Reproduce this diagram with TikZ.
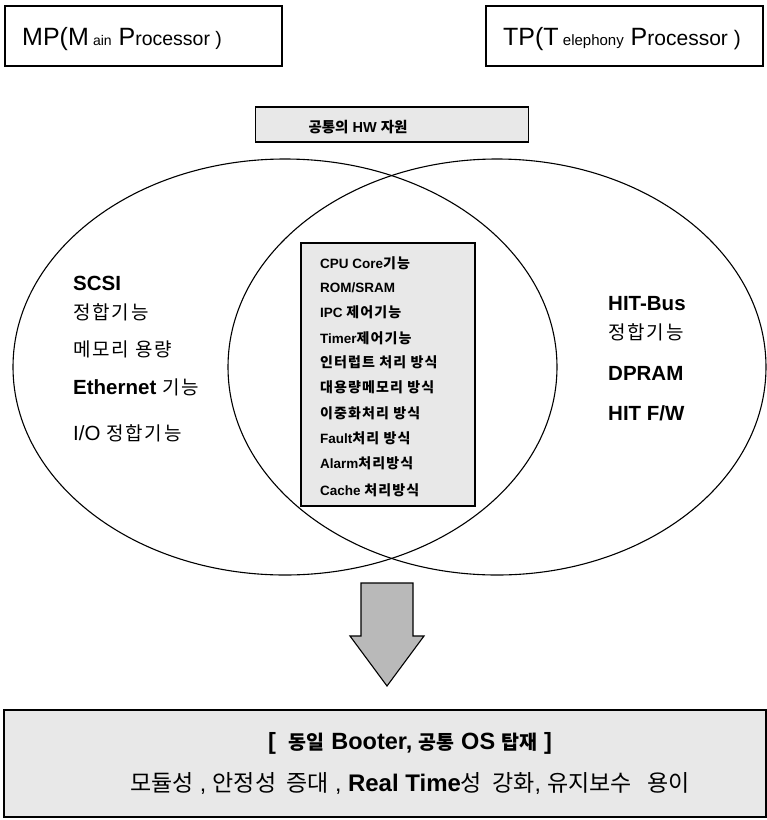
\documentclass[tikz,border=0pt]{standalone}
\usepackage{fontspec}
\setmainfont{Liberation Sans}
\newfontfamily\kr{Noto Sans CJK KR}
\newfontfamily\krw{Noto Sans CJK KR}[LetterSpace=10]
\newfontfamily\kri{Noto Sans CJK KR}[LetterSpace=8]
\newcommand{\K}[1]{{\kr #1}}
\newcommand{\KI}[1]{{\fontsize{14}{14}\kri #1}}
\newcommand{\KW}[1]{{\fontsize{19}{19}\krw #1}}
\usetikzlibrary{shapes.geometric}
\begin{document}
\begin{tikzpicture}[x=1pt,y=-1pt,
  box/.style={draw=black, line width=1.1pt, rectangle, inner sep=0pt},
  shaded/.style={box, fill=gray!18},
  venn/.style={draw=black, line width=1.1pt, ellipse, inner sep=0pt},
  lbl/.style={anchor=base west, inner sep=0pt, font=\fontsize{20.5}{20.5}\selectfont},
  item/.style={anchor=base west, inner sep=0pt, font=\fontsize{13.5}{13.5}\selectfont\bfseries},
]
\useasboundingbox (0,0) rectangle (767,820);

% top boxes
\node[box, minimum width=277pt, minimum height=60pt] (mp) at (143.5,36) {};
\node[anchor=base west, inner sep=0pt] (mpt) at (22,45) {\fontsize{25}{25}\selectfont MP(M\,{\fontsize{14}{14}\selectfont ain} P{\fontsize{19.5}{19.5}\selectfont rocessor )}};
\node[box, minimum width=277pt, minimum height=60pt] (tp) at (624.5,36) {};
\node[anchor=base west, inner sep=0pt] (tpt) at (503,45) {\fontsize{25}{25}\selectfont TP(T\,{\fontsize{15}{15}\selectfont elephony} P{\fontsize{21}{21}\selectfont rocessor )}};

% common HW box
\node[shaded, minimum width=273pt, minimum height=35pt] (hw) at (392,124.5) {};
\node[anchor=base, inner sep=0pt] (hwt) at (358,132) {\fontsize{14.5}{14.5}\selectfont\bfseries\K{공통의} HW \K{자원}};

% ellipses
\node[venn, minimum width=544pt, minimum height=416pt] (left) at (285,367) {};
\node[venn, minimum width=538pt, minimum height=416pt] (right) at (497,367) {};

% inner box
\node[shaded, minimum width=174pt, minimum height=263pt] (inner) at (388,374.5) {};
\node[item] (i1) at (320,268) {CPU Core\KI{기능}};
\node[item] (i2) at (320,292) {ROM/SRAM};
\node[item] (i3) at (320,317) {IPC \KI{제어기능}};
\node[item] (i4) at (320,343) {Timer\KI{제어기능}};
\node[item] (i5) at (320,367) {\KI{인터럽트 처리 방식}};
\node[item] (i6) at (320,392) {\KI{대용량메모리 방식}};
\node[item] (i7) at (320,418) {\KI{이중화처리 방식}};
\node[item] (i8) at (320,443) {Fault\KI{처리 방식}};
\node[item] (i9) at (320,468) {Alarm\KI{처리방식}};
\node[item] (i10) at (320,495) {Cache \KI{처리방식}};

% left texts
\node[lbl] (l1) at (73,290) {\bfseries SCSI};
\node[lbl] (l2) at (73,319) {\KW{정합기능}};
\node[lbl] (l3) at (73,356) {\KW{메모리 용량}};
\node[lbl] (l4) at (73,394) {\bfseries Ethernet \mdseries\KW{기능}};
\node[lbl] (l5) at (73,440) {I/O \KW{정합기능}};

% right texts
\node[lbl] (r1) at (608,310) {\bfseries HIT-Bus};
\node[lbl] (r2) at (608,339) {\KW{정합기능}};
\node[lbl] (r3) at (608,380) {\bfseries DPRAM};
\node[lbl] (r4) at (608,420) {\bfseries HIT F/W};

% arrow
\draw[line width=1.1pt, fill=gray!55, line join=miter]
  (361,583) -- (413,583) -- (413,636) -- (424,636) -- (387,686) -- (350,636) -- (361,636) -- cycle;

% bottom box
\node[shaded, minimum width=762pt, minimum height=107pt] (bottom) at (385,763.5) {};
\node[anchor=base, inner sep=0pt] (b1) at (410,749) {\fontsize{23.5}{23.5}\selectfont\bfseries [\ \ {\fontsize{19.5}{19.5}\kr 동일} Booter, {\fontsize{19.5}{19.5}\kr 공통} OS {\fontsize{19.5}{19.5}\kr 탑재} ]};
\node[anchor=base, inner sep=0pt] (b2) at (410,791) {\fontsize{23}{23}\selectfont{\kr 모듈성} , {\kr 안정성\ \ 증대} , \textbf{\fontsize{24}{24}\selectfont Real Time}{\kr 성\ \ 강화}, {\kr 유지보수\ \ \ 용이}};
\end{tikzpicture}
\end{document}
